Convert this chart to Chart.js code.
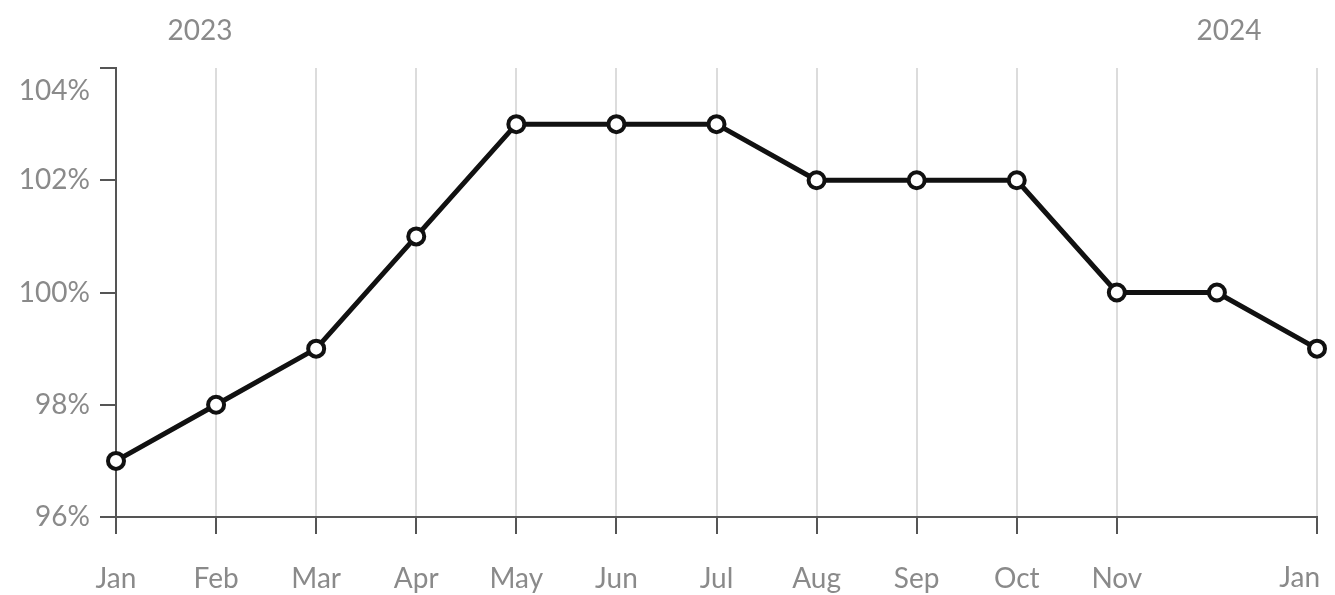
<!DOCTYPE html>
<html>
<head>
<meta charset="utf-8">
<script src="https://cdn.jsdelivr.net/npm/chart.js@4"></script>
<style>
  html, body { margin: 0; padding: 0; background: #fff; }
  #wrap { width: 1335px; height: 595px; }
</style>
</head>
<body>
<div id="wrap"><canvas id="myChart" width="1335" height="595"></canvas></div>
<script>
const months = ['Jan', 'Feb', 'Mar', 'Apr', 'May', 'Jun', 'Jul', 'Aug', 'Sep', 'Oct', 'Nov', 'Dec', 'Jan'];
const hiddenMonth = 11; // Dec has a point but no tick or label
const values = [97, 98, 99, 101, 103, 103, 103, 102, 102, 102, 100, 100, 99];
const yTicks = [96, 98, 100, 102, 104];
const years = ['2023', '2024'];

const textColor = '#8a8a8a';
const axisColor = '#555';
const font = { family: 'Lato', size: 28 };
const lastIdx = months.length - 1;
const topTick = yTicks[yTicks.length - 1];

// year captions, plus the two edge labels that sit inside the canvas
const extras = {
    id: 'extras',
    afterDraw(chart) {
        const c = chart.ctx;
        const area = chart.chartArea;
        const x = chart.scales.x;
        const y = chart.scales.y;
        c.save();
        c.fillStyle = textColor;
        c.font = font.size + 'px ' + font.family;
        c.textBaseline = 'middle';
        c.textAlign = 'center';
        c.fillText(years[0], area.left + 84, 31);
        c.fillText(years[1], area.right - 88, 31);
        c.textAlign = 'right';
        c.fillText(topTick + '%', y.right - 26, y.getPixelForValue(topTick) + 23);
        c.fillText(months[lastIdx], x.getPixelForValue(lastIdx) + 3, 578);
        c.restore();
    }
};

const ctx = document.getElementById('myChart').getContext('2d');
const myChart = new Chart(ctx, {
    type: 'line',
    data: {
        labels: months,
        datasets: [{
            data: values,
            borderColor: '#111',
            borderWidth: 5,
            pointRadius: 8,
            pointBorderWidth: 4,
            pointBackgroundColor: '#fff',
            pointBorderColor: '#111',
            tension: 0,
            clip: false
        }]
    },
    options: {
        responsive: false,
        animation: false,
        layout: { padding: { top: 68, right: 18, left: 0, bottom: 0 } },
        plugins: { legend: { display: false }, tooltip: { enabled: false } },
        scales: {
            x: {
                offset: false,
                afterFit: s => { s.height = 78; s.paddingLeft = 0; s.paddingRight = 0; },
                border: { display: true, color: axisColor, width: 2 },
                grid: {
                    color: c => c.index === hiddenMonth ? 'rgba(0,0,0,0)' : '#dcdcdc',
                    tickColor: c => c.index === hiddenMonth ? 'rgba(0,0,0,0)' : axisColor,
                    lineWidth: 2,
                    tickLength: 17,
                    drawOnChartArea: true
                },
                ticks: {
                    color: textColor,
                    font: font,
                    padding: 28,
                    maxRotation: 0,
                    autoSkip: false,
                    callback: (v, i) => (i === hiddenMonth || i === lastIdx) ? '' : months[i]
                }
            },
            y: {
                min: yTicks[0],
                max: topTick,
                afterFit: s => { s.width = 116; },
                afterBuildTicks: s => { s.ticks = yTicks.map(v => ({ value: v })); },
                border: { display: true, color: axisColor, width: 2 },
                grid: {
                    drawOnChartArea: false,
                    tickColor: axisColor,
                    lineWidth: 2,
                    tickLength: 16
                },
                ticks: {
                    color: textColor,
                    font: font,
                    padding: 10,
                    callback: v => v === topTick ? '' : v + '%'
                }
            }
        }
    },
    plugins: [extras]
});
</script>
</body>
</html>
